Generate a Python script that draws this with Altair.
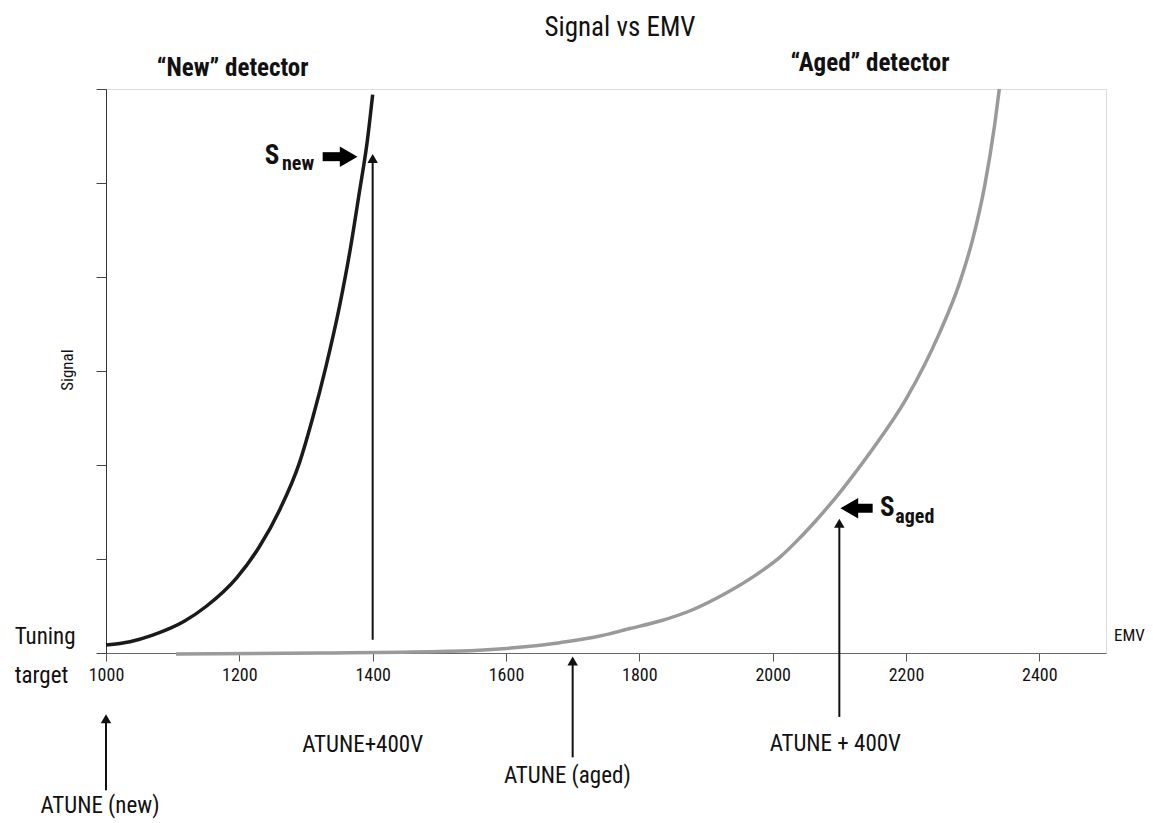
import altair as alt
import pandas as pd

# ---- data ----
new_emv = [1000, 1036, 1070, 1118, 1151, 1196, 1230, 1261, 1290, 1310, 1330,
           1350, 1366, 1380, 1392, 1400]
new_signal = [0.085, 0.12, 0.19, 0.34, 0.50, 0.80, 1.13, 1.53, 2.02, 2.50, 3.05,
              3.68, 4.28, 4.90, 5.45, 5.94]
aged_emv = [1105, 1321, 1500, 1560, 1620, 1681, 1741, 1786, 1831, 1880, 1931, 1981,
            2011, 2036, 2060, 2086, 2111, 2150, 2200, 2250, 2280, 2300, 2318, 2333, 2340]
aged_signal = [-0.01, 0.0, 0.015, 0.03, 0.06, 0.11, 0.18, 0.26, 0.34, 0.46, 0.64, 0.86,
               1.02, 1.19, 1.37, 1.58, 1.80, 2.17, 2.70, 3.40, 3.93, 4.40, 4.97, 5.62, 6.0]

x_ticks = [1000, 1200, 1400, 1600, 1800, 2000, 2200, 2400]
y_ticks = [0, 1, 2, 3, 4, 5, 6]

# vertical arrows: x, shaft start, shaft end (head position)
varrow_emv = [1000, 1400, 1700, 2100]
varrow_from = [-1.46, 0.14, -1.11, -0.68]
varrow_to = [-0.70, 5.26, -0.085, 1.38]

# thick horizontal arrows (S_new, S_aged)
harrow_emv_from = [1325, 2150]
harrow_emv_to = [1364, 2115]
harrow_signal = [5.28, 1.54]
harrow_shape = ["triangle-right", "triangle-left"]

# annotation labels (regular)
lab_text = ["ATUNE (new)", "ATUNE+400V", "ATUNE (aged)", "ATUNE + 400V"]
lab_emv = [991, 1385, 1692, 2094]
lab_signal = [-1.63, -0.98, -1.31, -0.97]

FONT = "Liberation Sans Narrow, Roboto Condensed, Roboto, sans-serif"

xs = alt.Scale(domain=[1000, 2500], nice=False, zero=False)
ys = alt.Scale(domain=[0, 6], nice=False)

X = alt.X("emv:Q", scale=xs, title=None,
          axis=alt.Axis(values=x_ticks, format="d", labelFont=FONT, labelFontSize=18,
                        labelColor="#111", tickColor="#555", tickSize=8, labelFlush=False,
                        domainColor="#666", grid=False, labelPadding=5))
Y = alt.Y("signal:Q", scale=ys, title=None,
          axis=alt.Axis(values=y_ticks, labels=False, tickSize=10, tickColor="#444",
                        domainColor="#333", grid=False))

df_new = pd.DataFrame({"emv": new_emv, "signal": new_signal})
df_aged = pd.DataFrame({"emv": aged_emv, "signal": aged_signal})

line_new = alt.Chart(df_new).mark_line(color="#1a1a1a", strokeWidth=3.5,
                                       interpolate="monotone").encode(x=X, y=Y)
line_aged = alt.Chart(df_aged).mark_line(color="#9a9a9a", strokeWidth=3.5,
                                         interpolate="monotone").encode(x=X, y=Y)

df_va = pd.DataFrame({"emv": varrow_emv, "signal": varrow_from, "signal2": varrow_to})
shafts = alt.Chart(df_va).mark_rule(color="#111", strokeWidth=2).encode(
    x=X, y=Y, y2="signal2:Q")
heads = alt.Chart(pd.DataFrame({"emv": varrow_emv, "signal": varrow_to})).mark_point(
    shape="triangle-up", filled=True, color="#111", size=110, opacity=1).encode(x=X, y=Y)

df_ha = pd.DataFrame({"emv": harrow_emv_from, "emv2": harrow_emv_to,
                      "signal": harrow_signal, "shape": harrow_shape})
hshafts = alt.Chart(df_ha).mark_rule(color="#000", strokeWidth=9).encode(
    x=X, x2="emv2:Q", y=Y)
hheads = alt.Chart(pd.DataFrame({"emv": harrow_emv_to, "signal": harrow_signal,
                                 "shape": harrow_shape})).mark_point(
    filled=True, color="#000", size=420, opacity=1).encode(
    x=X, y=Y, shape=alt.Shape("shape:N", scale=None, legend=None))

df_lab = pd.DataFrame({"emv": lab_emv, "signal": lab_signal, "text": lab_text})
labels = alt.Chart(df_lab).mark_text(font=FONT, fontSize=23, color="#111",
                                     align="center", baseline="middle").encode(
    x=X, y=Y, text="text:N")


def txt(t, emv, sig, size, weight="normal", align="left", angle=0, color="#111"):
    d = pd.DataFrame({"emv": [emv], "signal": [sig], "text": [t]})
    kw = dict(font=FONT, fontSize=size, fontWeight=weight, color=color, align=align,
              baseline="middle")
    if angle:
        kw["angle"] = angle
    return alt.Chart(d).mark_text(**kw).encode(x=X, y=Y, text="text:N")


texts = [
    txt("Signal vs EMV", 1771, 6.65, 27, align="center"),
    txt("\u201cNew\u201d detector", 1190, 6.22, 25, weight="bold", align="center"),
    txt("\u201cAged\u201d detector", 2146, 6.28, 25, weight="bold", align="center"),
    txt("Signal", 943, 3.01, 17, align="center", angle=270),
    txt("Tuning", 863, 0.17, 23),
    txt("target", 863, -0.245, 23),
    txt("EMV", 2512, 0.18, 17),
    txt("S", 1238, 5.29, 27, weight="bold"),
    txt("new", 1264, 5.20, 20, weight="bold"),
    txt("S", 2161, 1.54, 27, weight="bold"),
    txt("aged", 2184, 1.45, 20, weight="bold"),
]

chart = alt.layer(line_new, line_aged, shafts, heads, hshafts, hheads, labels, *texts).properties(
    width=1000, height=564,
    autosize=alt.AutoSizeParams(type="none"),
    padding={"left": 98, "top": 81, "right": 41, "bottom": 166},
).configure_view(stroke="#888", strokeWidth=1.5).configure(background="white")

chart.save("out.html", embed_options={"renderer": "svg", "actions": False})
